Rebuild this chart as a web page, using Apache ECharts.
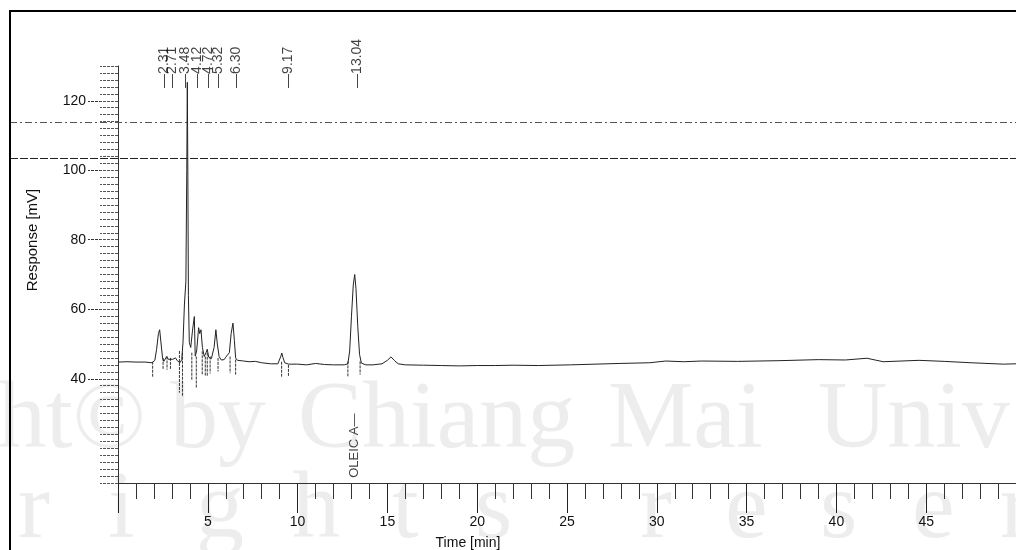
<!DOCTYPE html>
<html><head><meta charset="utf-8">
<script src="https://cdn.jsdelivr.net/npm/echarts@6/dist/echarts.min.js"></script>
<style>html,body{margin:0;padding:0;background:#fff}#c{width:1016px;height:550px}</style>
</head><body><div id="c"></div>
<script>
// ---- data ----
const solventRegion = [
  [0,44.8],[0.5,44.9],[1.0,44.8],[1.5,44.8],[1.9,44.6],[2.05,45.3],[2.15,48.5],[2.25,53.0],[2.32,54.1],
  [2.40,50.0],[2.48,46.0],[2.55,45.0],[2.64,45.4],[2.71,46.4],[2.80,45.6],[2.90,45.3],[3.05,45.6],
  [3.20,46.0],[3.30,45.2],[3.45,44.6],[3.55,45.5],[3.62,50.5],[3.70,61.5],[3.78,68.0],[3.83,100],
  [3.86,125.3],[3.89,98],[3.92,64],[3.97,50.4],[4.05,49],[4.15,54],[4.25,57.9],[4.30,46.5],[4.38,48],
  [4.49,54.7],[4.55,53],[4.62,54.1],[4.70,49],[4.80,46.4],[4.90,47.5],[4.97,48.5],[5.05,46.2],
  [5.20,45.8],[5.35,49],[5.45,54.1],[5.53,50],[5.63,46.4],[5.75,45.4],[5.91,45.5],[6.00,46.2],
  [6.09,46.0],[6.20,47.5],[6.30,53],[6.40,56.0],[6.48,51],[6.55,46.0],[6.65,45.3],[6.73,45.0]
];
const oleicRegion = [
  [7.0,45.1],[7.3,44.9],[7.65,45.0],[8.0,44.6],[8.5,44.3],[8.9,44.3],[9.0,44.8],[9.07,46.5],[9.12,47.4],
  [9.18,46.2],[9.28,44.6],[9.5,44.2],[10,44.2],[10.5,44.0],[11,44.4],[11.5,44.1],[12,44.0],[12.6,44.0],
  [12.8,44.3],[12.9,48],[13.0,58],[13.1,67],[13.18,70.0],[13.25,66],[13.35,55],[13.45,47],[13.55,44.5],
  [13.8,44.0],[14.2,44.0],[14.7,44.3],[15.0,45.3],[15.2,46.3],[15.4,45.2],[15.6,44.3]
];
const baselineTail = [
  [16,44.0],[17,43.9],[18,43.8],[19,43.7],[20,43.8],[21,43.8],[22,43.9],[23.4,43.8],[25.2,44.0],
  [27.9,44.4],[29.6,44.6],[30.5,45.1],[31.5,44.9],[32.5,45.1],[34.5,45.0],[36.8,45.2],[39.0,45.5],
  [40.5,45.4],[41.7,45.9],[42.6,44.9],[44.6,45.3],[46,45.0],[47.5,44.6],[49.3,44.2],[50,44.3]
];
// integrator marks: [time, low, high]
const integratorMarks = [
  [1.93,40.6,44.9],[2.51,42.6,46.0],[2.73,42.6,46.4],[2.92,42.8,46.0],[3.42,36.0,48.0],[3.59,34.8,47.5],
  [4.11,39.7,47.5],[4.36,37.4,46.4],[4.69,41.2,47.9],[4.86,40.7,46.4],[4.97,40.7,47.5],[5.13,41.5,46.4],
  [5.57,42.1,46.0],[6.24,41.6,46.4],[6.55,41.2,45.5],[9.11,40.6,44.9],[9.49,40.7,44.0],[12.80,40.7,45.0],
  [13.48,41.2,45.0]
];
const peakTimes = [2.31, 2.71, 3.48, 4.12, 4.72, 5.32, 6.30, 9.17, 13.04];
const compoundTime = [13.04];
const compoundName = ['OLEIC A'];
const referenceLevels = [113.8, 103.5];
const xTickLabels = [5, 10, 15, 20, 25, 30, 35, 40, 45];
const yTickLabels = [40, 60, 80, 100, 120];

const FONT = 'Liberation Sans, Arial, sans-serif';
const Y_MIN = 10, Y_MAX = 130;
const PEAK_LABEL_Y = 123.7;   // label anchor level (top strip)
const NAME_LABEL_Y = 11.5;    // compound name anchor level

const chart = echarts.init(document.getElementById('c'), null, {renderer: 'canvas'});
const signal = solventRegion.concat(oleicRegion, baselineTail);

const wm = '#ededed';
const wmFont = 'Liberation Serif, Times New Roman, serif';
const wmWords = [['ght©', -50], ['by', 170], ['Chiang', 298], ['Mai', 608], ['Univ', 818]];
const wmLetters = [['r', 18], ['i', 108], ['g', 196], ['h', 292], ['t', 392], ['s', 475], ['r', 640], ['e', 725], ['s', 820], ['e', 912], ['r', 1000]];
const graphics = [];
wmWords.forEach(([w, x]) => graphics.push({type: 'text', z: -10, x: x, y: 470, style: {text: w, fill: wm, font: '96px ' + wmFont, verticalAlign: 'bottom'}}));
wmLetters.forEach(([w, x]) => graphics.push({type: 'text', z: -10, x: x, y: 560, style: {text: w, fill: wm, font: '96px ' + wmFont, verticalAlign: 'bottom'}}));
graphics.push({type: 'rect', z: 100, shape: {x: 10, y: 11, width: 1030, height: 560}, style: {fill: 'none', stroke: '#000', lineWidth: 2}});
graphics.push({type: 'text', x: 33, y: 240, rotation: Math.PI / 2, style: {text: 'Response [mV]', fill: '#111', font: '15px ' + FONT, align: 'center', verticalAlign: 'middle'}});
graphics.push({type: 'text', x: 468, y: 543, style: {text: 'Time [min]', fill: '#111', font: '14px ' + FONT, align: 'center', verticalAlign: 'middle'}});

const option = {
  animation: false,
  backgroundColor: '#fff',
  graphic: graphics,
  grid: [
    {left: 118, right: -8, top: 66, bottom: 67},
    {left: 10, right: -8, top: 66, bottom: 67}
  ],
  xAxis: [
    {type: 'value', gridIndex: 0, min: 0, max: 50, interval: 5, position: 'bottom',
     axisLine: {show: true, lineStyle: {color: '#333', width: 1}},
     axisTick: {show: true, length: 30, lineStyle: {color: '#222'}},
     minorTick: {show: true, splitNumber: 5, length: 16, lineStyle: {color: '#333'}},
     axisLabel: {show: true, margin: 32, color: '#111', fontFamily: FONT, fontSize: 14,
       customValues: xTickLabels},
     splitLine: {show: false}},
    {type: 'value', gridIndex: 1, min: 0, max: 1, show: false}
  ],
  yAxis: [
    {type: 'value', gridIndex: 0, min: Y_MIN, max: Y_MAX, position: 'left',
     axisLine: {show: true, lineStyle: {color: '#333', width: 1}},
     axisTick: {show: true, length: 30, customValues: yTickLabels, lineStyle: {color: '#333', type: [3, 1]}},
     axisLabel: {show: true, margin: 32, color: '#111', fontFamily: FONT, fontSize: 14, customValues: yTickLabels},
     splitLine: {show: false}},
    {type: 'value', gridIndex: 0, min: Y_MIN, max: Y_MAX, interval: 2, position: 'left', offset: 0,
     axisLine: {show: false}, axisLabel: {show: false}, splitLine: {show: false},
     axisTick: {show: true, length: 18, lineStyle: {color: '#555', type: [3, 1]}}},
    {type: 'value', gridIndex: 1, min: Y_MIN, max: Y_MAX, show: false}
  ],
  series: [
    {type: 'line', xAxisIndex: 1, yAxisIndex: 2, data: [], silent: true,
     markLine: {silent: true, symbol: 'none', label: {show: false}, animation: false,
       data: [
         {yAxis: referenceLevels[0], lineStyle: {color: '#555', width: 1, type: [7, 3, 2, 3]}},
         {yAxis: referenceLevels[1], lineStyle: {color: '#222', width: 1, type: [8, 2]}}
       ]}},
    {type: 'line', xAxisIndex: 0, yAxisIndex: 0, data: signal, showSymbol: false, symbol: 'none',
     lineStyle: {color: '#222', width: 1}, silent: true, z: 5},
    {type: 'custom', xAxisIndex: 0, yAxisIndex: 0, data: integratorMarks, silent: true, z: 4,
     renderItem: function (params, api) {
       const p1 = api.coord([api.value(0), api.value(2)]);
       const p2 = api.coord([api.value(0), api.value(1)]);
       return {type: 'line', shape: {x1: p1[0], y1: p1[1], x2: p2[0], y2: p2[1]},
               style: {stroke: '#333', lineWidth: 1, lineDash: [3, 1]}};
     }},
    {type: 'scatter', xAxisIndex: 0, yAxisIndex: 0, symbolSize: 0, silent: true,
     data: peakTimes.map(t => [t, PEAK_LABEL_Y]),
     label: {show: true, position: 'inside', rotate: 90, align: 'left', verticalAlign: 'middle',
       offset: [0, 5], color: '#111', fontFamily: FONT, fontSize: 14,
       formatter: p => '\u2014' + p.value[0].toFixed(2)}},
    {type: 'scatter', xAxisIndex: 0, yAxisIndex: 0, symbolSize: 0, silent: true,
     data: compoundTime.map((t, i) => ({value: [t, NAME_LABEL_Y], name: compoundName[i]})),
     label: {show: true, position: 'inside', rotate: 90, align: 'left', verticalAlign: 'middle',
       offset: [0, 2], color: '#111', fontFamily: FONT, fontSize: 13,
       formatter: p => p.name + '\u2014'}}
  ]
};
chart.setOption(option);
</script>
</body></html>
